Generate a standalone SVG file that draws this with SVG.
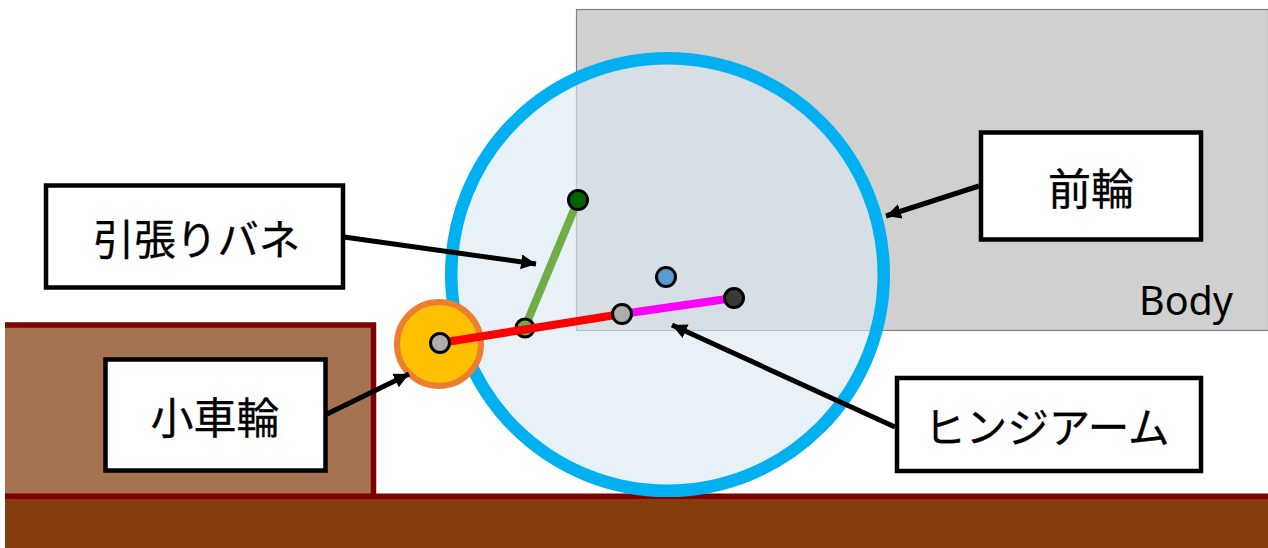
<svg xmlns="http://www.w3.org/2000/svg" width="1268" height="548" viewBox="0 0 1268 548">
<style>
.label rect{fill:#fff;stroke:#000;stroke-width:4.500}
.label text{font-family:"Noto Sans CJK JP","Noto Sans",sans-serif;font-size:43px;fill:#000;text-anchor:middle;stroke:#000;stroke-width:.3}
.label text.kana{font-size:41.500px}
.leader{stroke:#000;stroke-width:5;fill:none;marker-end:url(#ah)}
.joint{stroke:#000;stroke-width:3}
.link{stroke-width:8;fill:none}
</style>
<defs>
<marker id="ah" markerUnits="userSpaceOnUse" markerWidth="18" markerHeight="16" refX="15" refY="7.500" orient="auto">
<path d="M0 0L15 7.500L0 15Z" fill="#000"/>
</marker>
</defs>
<rect width="1268" height="548" fill="#fff"/>
<g id="body">
<rect x="576.500" y="9.500" width="692" height="321" fill="#d0d0d0" stroke="#808080" stroke-width="1.200"/>
<text x="1139" y="315" font-family="'Noto Sans',sans-serif" font-size="39.500" fill="#000">Body</text>
</g>
<g id="platform">
<path d="M5 325H373.500V496H5Z" fill="#a57350"/>
<path d="M5 325H373.500V496" fill="none" stroke="#7f0000" stroke-width="5.500"/>
</g>
<g id="ground">
<rect x="5" y="496" width="1263" height="52" fill="#843c0c"/>
<rect x="5" y="493.500" width="1263" height="5.500" fill="#7f0000"/>
</g>
<g id="front-wheel">
<circle cx="667.500" cy="274.500" r="216.250" fill="#dae7f3" fill-opacity=".62" stroke="#00b0f0" stroke-width="12.500"/>
</g>
<g id="small-wheel">
<circle cx="439" cy="344" r="42" fill="#ffc000" stroke="#ed7d31" stroke-width="6"/>
</g>
<g id="connectors">
<line class="link" x1="525" y1="327" x2="578" y2="200" stroke="#70ad47"/>
<circle class="joint" cx="525" cy="328" r="9" fill="#70ad47"/>
<line class="link" x1="622" y1="314" x2="734" y2="298" stroke="#ff00ff"/>
<line class="link" x1="440" y1="343" x2="622" y2="314" stroke="#ff0000"/>
<line class="leader" x1="344" y1="237" x2="536" y2="264"/>
<line class="leader" x1="327" y1="414" x2="409" y2="374"/>
<line class="leader" x1="979" y1="186" x2="886" y2="216"/>
<line class="leader" x1="895" y1="427" x2="672" y2="325"/>
</g>
<g id="joints">
<circle class="joint" cx="578" cy="200" r="9.500" fill="#006400"/>
<circle class="joint" cx="666" cy="277" r="9.500" fill="#5b9bd5"/>
<circle class="joint" cx="734" cy="298" r="9.500" fill="#3b3838"/>
<circle class="joint" cx="622" cy="314" r="9.500" fill="#afabab"/>
<circle class="joint" cx="440" cy="343" r="9.500" fill="#afabab"/>
</g>
<g id="label-spring" class="label">
<rect x="46" y="185.500" width="297" height="102"/>
<text class="kana" x="196.500" y="255">引張りバネ</text>
</g>
<g id="label-small-wheel" class="label">
<rect x="105.500" y="359.500" width="220" height="111"/>
<text x="215" y="434">小車輪</text>
</g>
<g id="label-front-wheel" class="label">
<rect x="981" y="132.500" width="220" height="107"/>
<text x="1091" y="205">前輪</text>
</g>
<g id="label-hinge-arm" class="label">
<rect x="897" y="378" width="304" height="93"/>
<text class="kana" x="1047" y="443">ヒンジアーム</text>
</g>
</svg>
